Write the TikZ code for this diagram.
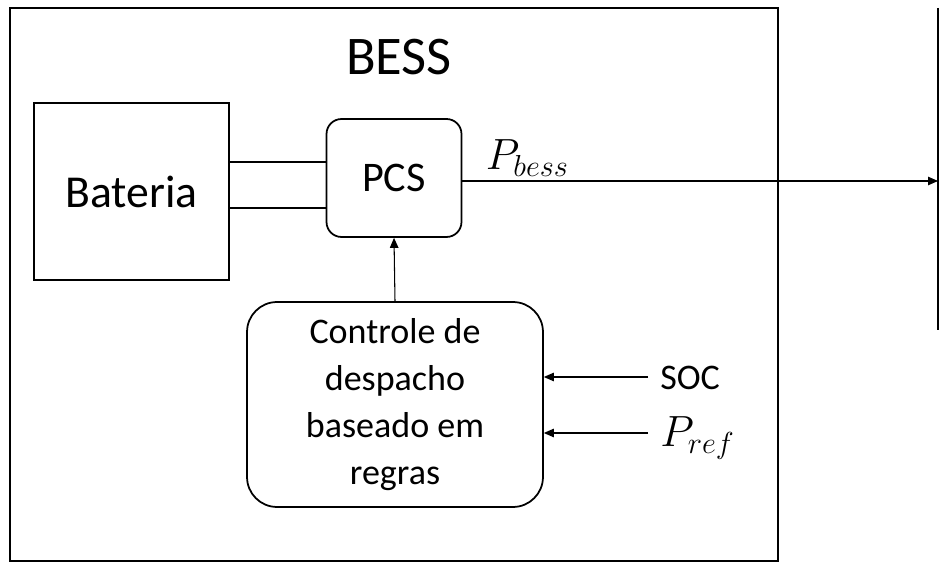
\documentclass[tikz,border=0pt]{standalone}
\usepackage{fontspec}
\setmainfont{Carlito}
\usetikzlibrary{arrows.meta}

\begin{document}
\begin{tikzpicture}[x=0.02cm, y=-0.02cm,
	box/.style={draw, line width=1pt, align=center, inner sep=0pt},
	wire/.style={line width=0.6pt},
	flow/.style={wire, -{Triangle[length=0.2cm, width=0.17cm]}}]

	\useasboundingbox (0,0) rectangle (940,563);

	% outer frame
	\draw[line width=0.8pt] (10,8) rectangle (778,561);
	\node[font=\fontsize{31}{34}\selectfont] (title) at (399,57) {BESS};

	% blocks
	\node[box, minimum width=3.9cm, minimum height=3.54cm, font=\fontsize{26}{30}\selectfont]
		(bat) at (131.5,191.5) {Bateria};
	\node[box, rounded corners=0.3cm, minimum width=2.7cm, minimum height=2.36cm,
		font=\fontsize{24}{28}\selectfont] (pcs) at (394,178) {PCS};
	\node[box, rounded corners=0.6cm, minimum width=5.92cm, minimum height=4.1cm,
		font=\fontsize{20.5}{26.7}\selectfont] (ctrl) at (395,404.5)
		{Controle de\\despacho\\baseado em\\regras};

	\draw[wire] (bat.east |- 0,162) -- (pcs.west |- 0,162);
	\draw[wire] (bat.east |- 0,208) -- (pcs.west |- 0,208);

	% output to the grid
	\coordinate (gridtop) at (938,8);
	\coordinate (gridbot) at (938,330);
	\coordinate (grid) at (938,181);
	\draw[line width=1pt] (gridtop) -- (gridbot);
	\draw[flow] (pcs.east |- grid) -- (grid);
	\node[anchor=south west, inner sep=2pt, font=\fontsize{23}{26}\selectfont]
		(pbess) at (482,180) {$P_{bess}$};

	% control signals
	\draw[flow] (ctrl.north) -- (pcs.south);
	\node[anchor=west, inner sep=0pt, font=\fontsize{20.5}{24}\selectfont]
		(soc) at (660,378) {SOC};
	\node[anchor=west, inner sep=0pt, font=\fontsize{23}{26}\selectfont]
		(pref) at (660,438) {$P_{ref}$};
	\coordinate (socin) at (648,377);
	\coordinate (prefin) at (648,433);
	\draw[flow] (socin) -- (ctrl.east |- socin);
	\draw[flow] (prefin) -- (ctrl.east |- prefin);

\end{tikzpicture}
\end{document}
